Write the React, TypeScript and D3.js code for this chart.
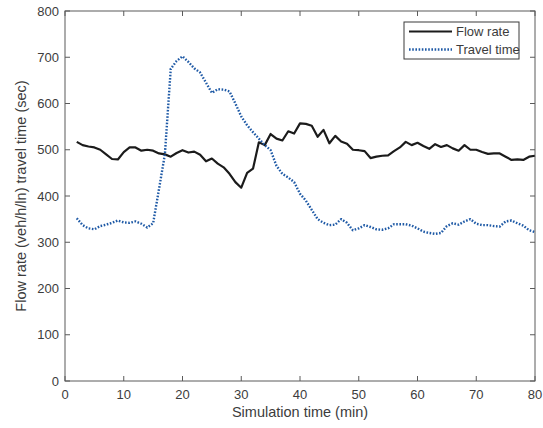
import React from 'react';
import * as d3 from 'd3';

// Simulation time (min) for each sample
const times = [
  2, 3, 4, 5, 6, 7, 8, 9, 10, 11, 12, 13, 14, 15, 16, 17, 18, 19, 20, 21,
  22, 23, 24, 25, 26, 27, 28, 29, 30, 31, 32, 33, 34, 35, 36, 37, 38, 39, 40, 41,
  42, 43, 44, 45, 46, 47, 48, 49, 50, 51, 52, 53, 54, 55, 56, 57, 58, 59, 60, 61,
  62, 63, 64, 65, 66, 67, 68, 69, 70, 71, 72, 73, 74, 75, 76, 77, 78, 79, 80,
];

// Flow rate (veh/h/ln)
const flowRate = [
  517, 510, 507, 505, 500, 490, 480, 479, 495, 505, 505, 498, 500, 498, 492, 490, 485, 493, 499, 494,
  496, 489, 475, 481, 470, 462, 448, 430, 418, 450, 459, 516, 510, 534, 524, 520, 540, 535, 557, 556,
  552, 528, 543, 514, 530, 518, 513, 500, 499, 497, 482, 485, 487, 488, 497, 505, 517, 510, 515, 508,
  502, 512, 506, 510, 503, 498, 510, 500, 500, 495, 491, 492, 492, 485, 478, 479, 478, 485, 487,
];

// Travel time (sec)
const travelTime = [
  352, 337, 330, 328, 335, 338, 342, 347, 343, 342, 345, 340, 332, 341, 415, 490, 675, 692, 702, 690,
  676, 667, 645, 623, 631, 630, 626, 600, 572, 553, 538, 524, 510, 499, 465, 448, 440, 430, 405, 390,
  370, 350, 342, 337, 338, 350, 342, 326, 330, 337, 333, 328, 327, 330, 339, 339, 339, 336, 330, 323,
  320, 318, 320, 335, 341, 338, 345, 350, 340, 337, 337, 335, 334, 345, 347, 341, 336, 326, 322,
];

const xTicks = [0, 10, 20, 30, 40, 50, 60, 70, 80];
const yTicks = [0, 100, 200, 300, 400, 500, 600, 700, 800];

const series = [
  { name: 'Flow rate', values: flowRate, color: '#1b1b1b', dash: undefined },
  { name: 'Travel time', values: travelTime, color: '#1f5aa6', dash: '1.6,1.6' },
];

const W = 543;
const H = 428;
const margin = { left: 65, right: 8, top: 11, bottom: 47 };
const font = '"Liberation Sans", Arial, Helvetica, sans-serif';
const axisColor = '#5a5a5a';
const textColor = '#3c3c3c';

export default function App() {
  const x = d3.scaleLinear().domain([0, 80]).range([margin.left, W - margin.right]);
  const y = d3.scaleLinear().domain([0, 800]).range([H - margin.bottom, margin.top]);

  const line = (vals: number[]) =>
    d3
      .line<number>()
      .x((_, i) => x(times[i]))
      .y((d) => y(d))(vals) || '';

  const x0 = x(0);
  const x1 = x(80);
  const yTop = y(800);
  const yBot = y(0);
  const tick = 5;

  return (
    <div style={{ position: 'absolute', left: 0, top: 0 }}>
      <svg width={W} height={H} style={{ display: 'block', background: '#fff' }}>
        {/* data */}
        {series.map((s) => (
          <path
            key={s.name}
            d={line(s.values)}
            fill="none"
            stroke={s.color}
            strokeWidth={s.dash ? 2.4 : 2.2}
            strokeDasharray={s.dash}
            strokeLinejoin="round"
          />
        ))}

        {/* box */}
        <rect x={x0} y={yTop} width={x1 - x0} height={yBot - yTop} fill="none" stroke={axisColor} strokeWidth={1} />

        {/* x ticks */}
        {xTicks.map((t) => (
          <g key={'x' + t}>
            <line x1={x(t)} x2={x(t)} y1={yBot} y2={yBot - tick} stroke={axisColor} />
            <line x1={x(t)} x2={x(t)} y1={yTop} y2={yTop + tick} stroke={axisColor} />
            <text x={x(t)} y={yBot + 18} textAnchor="middle" fontSize={13} fill={textColor} fontFamily={font}>
              {t}
            </text>
          </g>
        ))}

        {/* y ticks */}
        {yTicks.map((t) => (
          <g key={'y' + t}>
            <line x1={x0} x2={x0 + tick} y1={y(t)} y2={y(t)} stroke={axisColor} />
            <line x1={x1} x2={x1 - tick} y1={y(t)} y2={y(t)} stroke={axisColor} />
            <text x={x0 - 6} y={y(t) + 4.5} textAnchor="end" fontSize={13} fill={textColor} fontFamily={font}>
              {t}
            </text>
          </g>
        ))}

        {/* axis titles */}
        <text x={(x0 + x1) / 2} y={H - 11} textAnchor="middle" fontSize={14.5} fill={textColor} fontFamily={font}>
          Simulation time (min)
        </text>
        <text
          transform={`translate(26, ${(yTop + yBot) / 2}) rotate(-90)`}
          textAnchor="middle"
          fontSize={14.5}
          fill={textColor}
          fontFamily={font}
        >
          Flow rate (veh/h/ln) travel time (sec)
        </text>

        {/* legend */}
        <g transform="translate(404, 22)">
          <rect x={0} y={0} width={115} height={37} fill="#fff" stroke="#3a3a3a" strokeWidth={1} />
          {series.map((s, i) => (
            <g key={s.name} transform={`translate(0, ${9.5 + i * 18})`}>
              <line x1={5} x2={48} y1={0} y2={0} stroke={s.color} strokeWidth={s.dash ? 2.4 : 2.2} strokeDasharray={s.dash} />
              <text x={52} y={4.5} fontSize={13} fill={textColor} fontFamily={font}>
                {s.name}
              </text>
            </g>
          ))}
        </g>
      </svg>
    </div>
  );
}
